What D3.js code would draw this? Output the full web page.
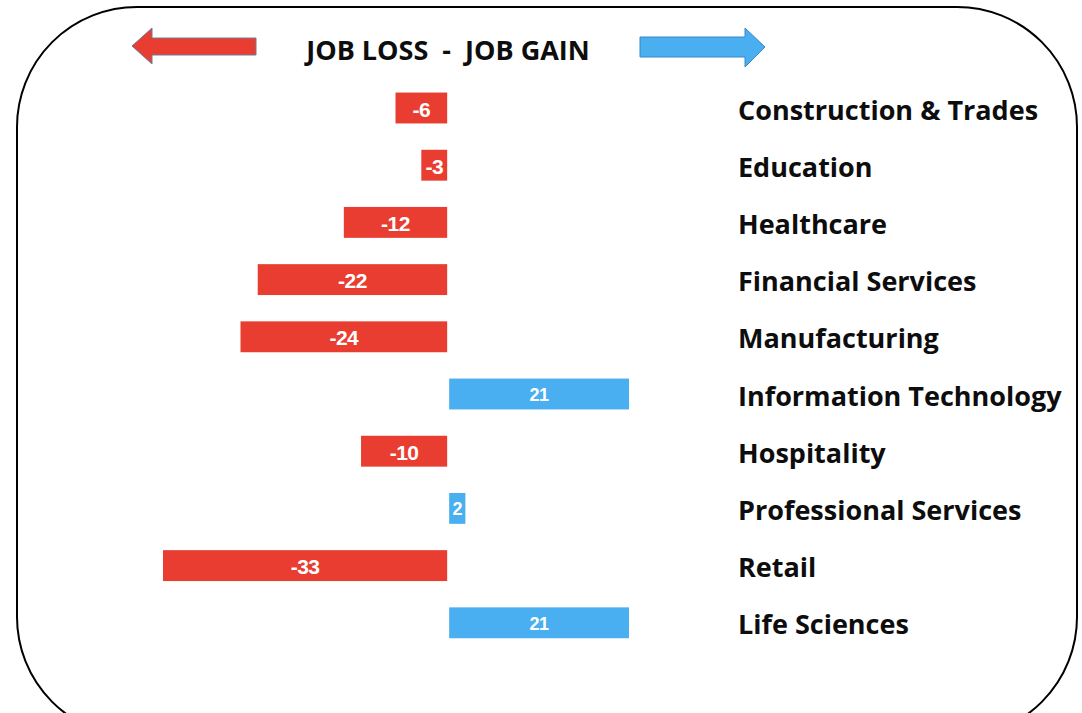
<!DOCTYPE html>
<html>
<head>
<meta charset="utf-8">
<script src="https://cdn.jsdelivr.net/npm/d3@7"></script>
<style>
  body { margin: 0; background: #fff; }
  svg { display: block; }
</style>
</head>
<body>
<div id="chart"></div>
<script>
// sectors, top to bottom
var sectors = ["Construction & Trades", "Education", "Healthcare", "Financial Services",
  "Manufacturing", "Information Technology", "Hospitality", "Professional Services",
  "Retail", "Life Sciences"];
// net change in jobs
var changes = [-6, -3, -12, -22, -24, 21, -10, 2, -33, 21];
var titleLeft = "JOB LOSS";
var titleRight = "JOB GAIN";

var width = 1082, height = 713;
var lossColor = "#e83d30", gainColor = "#4aaff0";

var svg = d3.select("#chart").append("svg")
    .attr("width", width)
    .attr("height", height);

// rounded frame (bottom runs off the picture)
svg.append("rect")
    .attr("x", 17)
    .attr("y", 7)
    .attr("width", 1060)
    .attr("height", 730)
    .attr("rx", 120)
    .attr("ry", 120)
    .style("fill", "none")
    .style("stroke", "#000")
    .style("stroke-width", 2);

var x = d3.scaleLinear()
    .domain([-33, 21])
    .range([163, 628]);

var y = d3.scaleBand()
    .domain(sectors)
    .range([79.4, 651.4])
    .paddingInner(0.46)
    .paddingOuter(0.23);

var data = sectors.map(function(s, i) { return {name: s, value: changes[i]}; });

//bars, gains start a hair right of zero
svg.selectAll("rect.bar")
    .data(data)
    .enter().append("rect")
    .attr("class", "bar")
    .attr("x", function(d) { return d.value < 0 ? x(d.value) : x(0) + 2; })
    .attr("y", function(d) { return y(d.name); })
    .attr("width", function(d) { return d.value < 0 ? x(0) - x(d.value) : x(d.value) - x(0) - 1; })
    .attr("height", y.bandwidth())
    .style("fill", function(d) { return d.value < 0 ? lossColor : gainColor; });

//value labels inside bars
svg.selectAll("text.val")
    .data(data)
    .enter().append("text")
    .attr("class", "val")
    .attr("x", function(d) { return d.value < 0 ? (x(d.value) + x(0)) / 2 : (x(d.value) + x(0)) / 2 + 1.5; })
    .attr("y", function(d) { return y(d.name) + y.bandwidth() / 2 + 1; })
    .attr("text-anchor", "middle")
    .attr("dominant-baseline", "central")
    .attr("font-family", "Liberation Sans, Arial, sans-serif")
    .style("font-weight", "bold")
    .style("font-size", function(d) { return d.value < 0 ? "21px" : "18px"; })
    .style("letter-spacing", "-0.5px")
    .style("fill", "#fff")
    .text(function(d) { return d.value; });

//sector names on the right
svg.selectAll("text.name")
    .data(data)
    .enter().append("text")
    .attr("class", "name")
    .attr("x", 738)
    .attr("y", function(d) { return y(d.name) + y.bandwidth() / 2 + 1; })
    .attr("dominant-baseline", "central")
    .attr("font-family", "Open Sans, sans-serif")
    .style("font-weight", "bold")
    .style("font-size", "27px")
    .style("fill", "#0d0d0d")
    .text(function(d) { return d.name; });

//title
svg.append("text")
    .attr("x", 448)
    .attr("y", 49)
    .attr("text-anchor", "middle")
    .attr("dominant-baseline", "central")
    .attr("font-family", "Open Sans, sans-serif")
    .style("font-weight", "bold")
    .style("font-size", "27px")
    .style("fill", "#0d0d0d")
    .style("white-space", "pre")
    .text(titleLeft + "  -  " + titleRight);

//arrows
svg.append("path")
    .attr("d", "M132,46 L152,28 L152,38 L256,38 L256,55 L152,55 L152,64 Z")
    .style("fill", lossColor)
    .style("stroke", "#6a7f9a")
    .style("stroke-width", 1);

svg.append("path")
    .attr("d", "M765,47 L745,28 L745,37 L640,37 L640,57 L745,57 L745,67 Z")
    .style("fill", gainColor)
    .style("stroke", "#3a86c4")
    .style("stroke-width", 1);
</script>
</body>
</html>
